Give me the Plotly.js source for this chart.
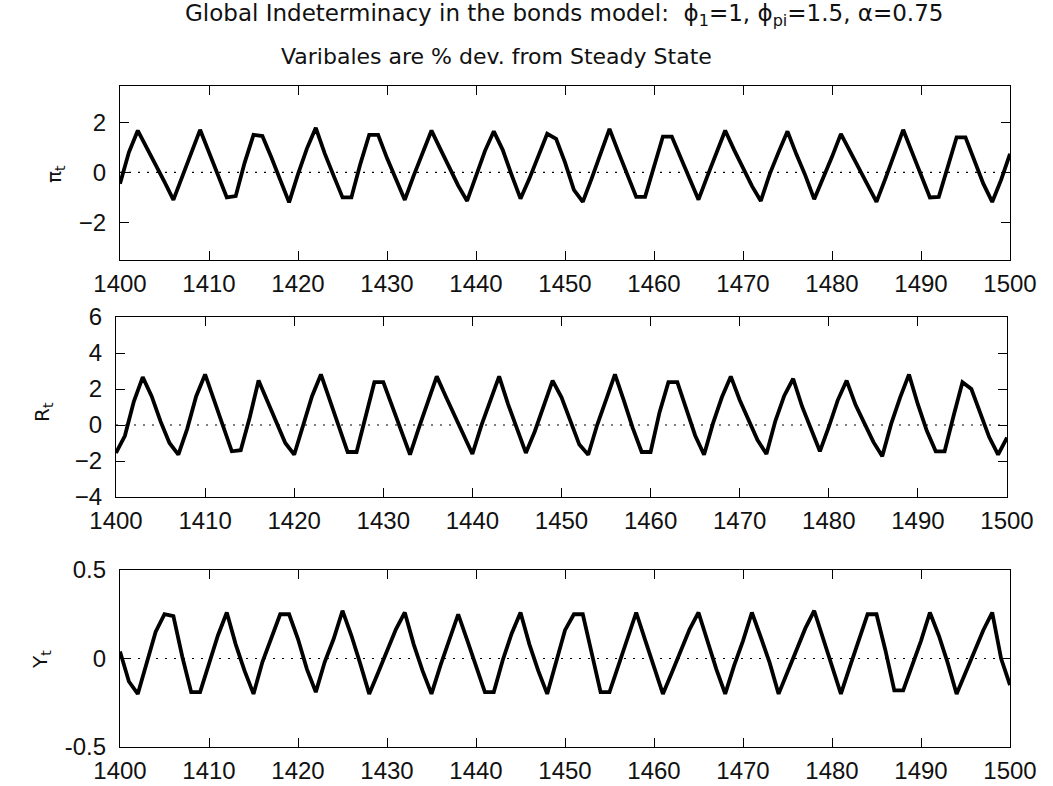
<!DOCTYPE html>
<html>
<head>
<meta charset="utf-8">
<script src="https://cdn.plot.ly/plotly-3.0.1.min.js"></script>
<style>html,body{margin:0;padding:0;background:#fff;} #chart{width:1053px;height:786px;}</style>
</head>
<body>
<div id="chart"></div>
<script>
// ---- data ----
const firstPeriod = 1400;
const lastPeriod = 1500;
const periods = [];
for (let t = firstPeriod; t <= lastPeriod; t++) periods.push(t);

const xTickVals = [1400, 1410, 1420, 1430, 1440, 1450, 1460, 1470, 1480, 1490, 1500];

const inflation = [
  -0.45, 0.8, 1.67, 1.0, 0.3, -0.38, -1.1, -0.12, 0.77, 1.7,
  0.8, -0.09, -1.0, -0.95, 0.38, 1.5, 1.45, 0.6, -0.29, -1.2,
  -0.07, 0.95, 1.78, 0.76, -0.13, -1.0, -1.0, 0.33, 1.5, 1.5,
  0.57, -0.3, -1.1, -0.13, 0.81, 1.67, 0.93, 0.19, -0.53, -1.14,
  -0.1, 0.85, 1.64, 0.9, -0.1, -1.05, -0.25, 0.65, 1.54, 1.34,
  0.4, -0.7, -1.18, -0.24, 0.8, 1.74, 0.81, -0.09, -0.98, -0.98,
  0.23, 1.43, 1.43, 0.58, -0.19, -1.09, -0.15, 0.8, 1.67, 0.9,
  0.17, -0.54, -1.14, -0.07, 0.81, 1.64, 0.72, -0.12, -1.07, -0.27,
  0.62, 1.54, 0.86, 0.2, -0.48, -1.18, -0.25, 0.77, 1.7, 0.8,
  -0.1, -1.0, -0.98, 0.2, 1.4, 1.4, 0.48, -0.45, -1.18, -0.3,
  0.74
];

const interestRate = [
  -1.55, -0.6, 1.3, 2.66, 1.6, 0.2, -1.0, -1.65, -0.2, 1.6,
  2.81, 1.35, -0.06, -1.46, -1.4, 0.4, 2.47, 1.3, 0.1, -1.0,
  -1.65, 0.0, 1.6, 2.81, 1.35, -0.07, -1.5, -1.5, 0.5, 2.38,
  2.38, 1.07, -0.34, -1.65, -0.15, 1.3, 2.7, 1.6, 0.49, -0.58,
  -1.61, -0.04, 1.39, 2.7, 1.16, -0.17, -1.55, -0.36, 1.05, 2.47,
  1.54, 0.22, -1.09, -1.65, 0.0, 1.39, 2.81, 1.35, -0.17, -1.5,
  -1.5, 0.7, 2.38, 2.38, 0.88, -0.58, -1.65, 0.09, 1.54, 2.7,
  1.39, 0.3, -0.84, -1.61, 0.22, 1.63, 2.57, 1.03, -0.17, -1.46,
  -0.11, 1.37, 2.47, 1.12, 0.09, -0.94, -1.74, 0.06, 1.52, 2.81,
  1.14, -0.32, -1.46, -1.46, 0.5, 2.38, 2.0, 0.71, -0.67, -1.65,
  -0.7
];

const output = [
  0.04, -0.13, -0.2, -0.03, 0.15, 0.25, 0.24, 0.01, -0.19, -0.19,
  -0.03, 0.13, 0.26, 0.08, -0.07, -0.2, -0.02, 0.11, 0.25, 0.25,
  0.11, -0.06, -0.19, -0.02, 0.11, 0.27, 0.13, -0.03, -0.2, -0.08,
  0.04, 0.165, 0.26, 0.08, -0.07, -0.2, -0.04, 0.1, 0.25, 0.105,
  -0.05, -0.19, -0.19, -0.01, 0.14, 0.26, 0.08, -0.07, -0.2, -0.01,
  0.16, 0.25, 0.25, 0.03, -0.19, -0.19, -0.045, 0.11, 0.26, 0.105,
  -0.04, -0.2, -0.08, 0.04, 0.165, 0.26, 0.096, -0.06, -0.2, -0.04,
  0.1, 0.26, 0.12, -0.025, -0.2, -0.075, 0.05, 0.17, 0.27, 0.117,
  -0.04, -0.2, -0.047, 0.1, 0.25, 0.25, 0.047, -0.18, -0.18, -0.04,
  0.1, 0.26, 0.13, -0.025, -0.2, -0.08, 0.04, 0.16, 0.26, 0.0,
  -0.15
];

const steadyState = 0;

const yTicks1 = [-2, 0, 2];
const yTicks2 = [-4, -2, 0, 2, 4, 6];
const yTicks3 = [-0.5, 0, 0.5];
const yTickText3 = ['-0.5', '0', '0.5'];

const titleLine1 = 'Global Indeterminacy in the bonds model:  ϕ<sub>1</sub>=1, ϕ<sub>pi</sub>=1.5, α=0.75';
const titleLine2 = 'Varibales are % dev. from Steady State';
const yTitles = ['π<sub>t</sub>', 'R<sub>t</sub>', 'Y<sub>t</sub>'];

// ---- figure ----
const W = 1053, H = 786;
const px = v => v / W;
const py = v => 1 - v / H;
const tickFont = {family: 'Liberation Sans, Arial, sans-serif', size: 24, color: '#111'};

function curve(y, xa, ya) {
  return {x: periods, y: y, xaxis: xa, yaxis: ya, type: 'scatter', mode: 'lines',
          line: {color: '#000', width: 3.8}, hoverinfo: 'skip'};
}
function ssLine(xa, ya) {
  return {x: [periods[0], periods[periods.length - 1]], y: [steadyState, steadyState],
          xaxis: xa, yaxis: ya, type: 'scatter', mode: 'lines',
          line: {color: '#000', width: 1.2, dash: '2px,7px'}, hoverinfo: 'skip'};
}

const data = [
  ssLine('x', 'y'), curve(inflation, 'x', 'y'),
  ssLine('x2', 'y2'), curve(interestRate, 'x2', 'y2'),
  ssLine('x3', 'y3'), curve(output, 'x3', 'y3')
];

function xAx(domain, anchor) {
  return {domain: domain, anchor: anchor, range: [1400, 1500], tickvals: xTickVals,
          ticks: 'inside', ticklen: 9, tickcolor: '#000', tickwidth: 1,
          mirror: 'allticks', showline: true, linecolor: '#000', linewidth: 1.2,
          showgrid: false, zeroline: false, ticklabelstandoff: 2, tickfont: tickFont};
}
function yAx(domain, anchor, range, tickvals, ticktext) {
  const a = {domain: domain, anchor: anchor, range: range, tickvals: tickvals,
          ticks: 'inside', ticklen: 9, tickcolor: '#000', tickwidth: 1,
          mirror: 'allticks', showline: true, linecolor: '#000', linewidth: 1.2,
          showgrid: false, zeroline: false, ticklabelstandoff: 8, tickfont: tickFont};
  if (ticktext) a.ticktext = ticktext;
  return a;
}

const layout = {
  width: W, height: H,
  margin: {l: 0, r: 0, t: 0, b: 0},
  paper_bgcolor: '#fff', plot_bgcolor: '#fff',
  showlegend: false,
  font: {family: 'Liberation Sans, Arial, sans-serif', size: 22, color: '#111'},
  xaxis: xAx([px(120), px(1010)], 'y'),
  yaxis: yAx([py(260), py(86)], 'x', [-3.5, 3.45], yTicks1),
  xaxis2: xAx([px(116), px(1007)], 'y2'),
  yaxis2: yAx([py(497), py(317)], 'x2', [-4, 6], yTicks2),
  xaxis3: xAx([px(120), px(1010)], 'y3'),
  yaxis3: yAx([py(747), py(570)], 'x3', [-0.5, 0.5], yTicks3, yTickText3),
  annotations: [
    {text: titleLine1, xref: 'paper', yref: 'paper', x: px(564), y: py(15), xanchor: 'center', yanchor: 'middle',
     showarrow: false, font: {family: 'DejaVu Sans, sans-serif', size: 23, color: '#111'}},
    {text: titleLine2, xref: 'paper', yref: 'paper', x: px(496), y: py(57), xanchor: 'center', yanchor: 'middle',
     showarrow: false, font: {family: 'DejaVu Sans, sans-serif', size: 22, color: '#111'}},
    {text: yTitles[0], xref: 'paper', yref: 'paper', x: px(55), y: py(174), xanchor: 'center', yanchor: 'middle',
     textangle: -90, showarrow: false, font: {family: 'DejaVu Sans, sans-serif', size: 20, color: '#111'}},
    {text: yTitles[1], xref: 'paper', yref: 'paper', x: px(43), y: py(412), xanchor: 'center', yanchor: 'middle',
     textangle: -90, showarrow: false, font: {family: 'DejaVu Sans, sans-serif', size: 20, color: '#111'}},
    {text: yTitles[2], xref: 'paper', yref: 'paper', x: px(41), y: py(660), xanchor: 'center', yanchor: 'middle',
     textangle: -90, showarrow: false, font: {family: 'DejaVu Sans, sans-serif', size: 20, color: '#111'}}
  ]
};

Plotly.newPlot('chart', data, layout, {staticPlot: true, displayModeBar: false});
</script>
</body>
</html>
